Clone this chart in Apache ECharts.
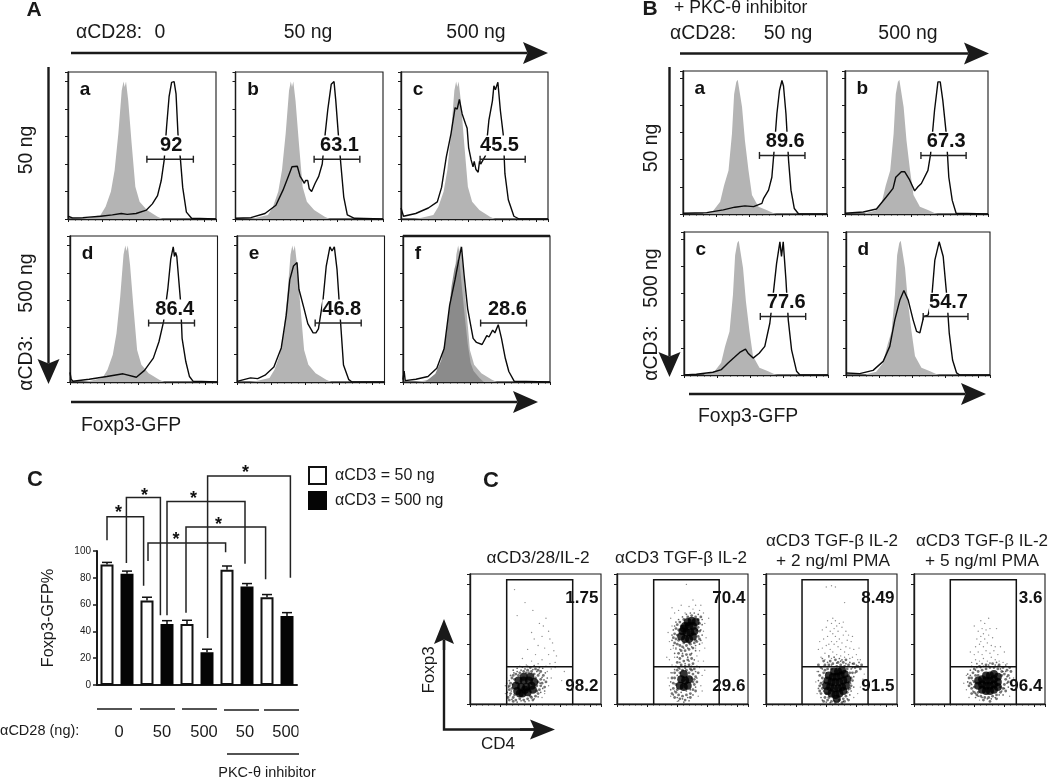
<!DOCTYPE html>
<html><head><meta charset="utf-8">
<script src="https://cdn.jsdelivr.net/npm/echarts@6/dist/echarts.min.js"></script>
<style>html,body{margin:0;padding:0;background:#fff}#c{width:1050px;height:779px}</style></head>
<body><div id="c"></div>
<script>
// ---------- Histogram traces: [fluorescence channel 0-100, % of max] ----------
const controlA=[[8.5,0],[14,1],[22,3],[25.4,9],[29,20],[31.5,35.5],[34,62],[36.3,93.5],[37.5,100],[38.3,96],[39.2,100],[40.7,86],[43,55],[45.5,23.4],[48.4,12.6],[53.3,6.5],[60.5,1.7],[64,0]];
const controlB=[[14,.5],[21,2.4],[25.8,9],[28.5,21],[31.6,32],[34,59],[35.5,88],[37,97],[38,98.5],[39.2,98],[41,78.5],[43,54],[45.5,32],[47.9,14],[52.4,5.4],[58,3],[63,.5],[65,0]];
const overlapF=[[15,0],[22,6],[26,16],[29,32],[31,50],[33,70],[35,83],[37,90],[38.5,88],[40,70],[42,48],[44,28],[46,14],[48,8],[52,3],[55,0]];
const traceAa=[[0,2],[1,3],[3,.8],[10,1],[22,2],[30,3],[36,4],[40,3.4],[46,4],[53,6.5],[57,11],[60.5,17],[63,28],[65,43],[66.6,67],[68.3,89],[70,99.5],[71.7,100],[73,91],[74.3,62],[76,43],[77.5,23],[80,5],[83.5,.5],[100,0]];
const traceAb=[[0,.5],[10.4,1],[20,4],[27.4,10],[32.2,21],[35.8,31],[38.3,38],[41.9,38.4],[43.8,31],[45,29],[46.7,26],[47.5,28],[49,28],[50,22],[51.6,20],[54,26],[56.4,31],[58.8,40],[60.8,62],[62.5,79],[64.9,98],[65.8,99],[66.8,100],[68,86],[69.7,62],[71.4,40],[73.4,16],[75.8,3],[80.6,.5],[100,0]];
const traceAc=[[0,8],[1.7,2],[10,4],[18.6,8],[24.7,12.5],[27.6,23],[30.8,45],[34,62],[36.8,81],[38.2,80],[39.7,87],[41.6,76.5],[44,69],[45,66],[46,52],[47.7,43],[49,38],[49.8,42],[51,36],[52.5,34],[53.4,42],[54.2,40],[57.4,46],[59.8,72],[62.2,86],[63.2,97],[64.2,94],[65.9,99.5],[67.6,79],[69.5,62],[70.7,33],[73,14],[76.8,2],[80.4,0],[100,0]];
const traceAd=[[0,7],[.8,2],[2,.5],[13,2],[25,4],[36,6],[45,3.5],[50.5,8.5],[56.5,17.5],[60.3,29.5],[63.4,44],[66.3,68],[68.3,90],[70,99],[70.8,92],[71.6,95],[72.4,92],[75,58.5],[76,32],[78.5,15],[81,4],[83.5,.5],[100,0]];
const traceAe=[[0,.5],[9.2,3],[14,2.5],[19,5],[25,11],[30,25],[33.4,49],[35.8,75],[38.3,85],[40.7,87.5],[42,68],[45.5,53.6],[48,42.8],[51.6,36],[53.5,36],[55.2,39],[58.4,61],[60.5,85],[63,99],[64.4,96],[66,99],[67.8,82.6],[70.2,44],[72.2,12.5],[75.8,1.7],[78,0],[100,0]];
const traceAf=[[0,1.7],[.8,8],[1.5,1],[8.8,2],[17,4],[23,10],[28,24.6],[31.7,56],[35.4,75],[38.4,92],[39.8,99],[41.6,78],[44,53.6],[47.7,32],[50,29],[53.8,27.5],[57,34],[58.5,33],[61,38],[62.5,36],[64.8,42],[67,32],[69.6,17.4],[72,7.7],[75.7,.5],[100,0]];
const traceBa=[[0,.5],[16.5,1],[28,3],[36,5],[43,6],[49,5.4],[54.8,7.8],[56,11.5],[59.4,17.5],[61.7,27],[63.3,47],[65.2,73.6],[67,90.7],[68.7,98],[69.8,94],[71.5,73.6],[73.3,39.5],[75,17.5],[77.3,4],[80.3,0],[100,0]];
const traceBb=[[0,.5],[12.8,1.5],[22,3.7],[29,12.7],[33.6,18.8],[35.5,27],[39.4,31],[41.8,31],[45.2,25],[48.7,17],[51,20],[53.4,22.4],[58,32],[59.9,44.4],[62.6,76],[65,97],[66.6,97],[68.4,83.4],[70.8,59],[72.6,27],[75,10],[77.7,.5],[100,0]];
const traceBc=[[0,0],[8.6,.5],[20,2],[26,4],[30.6,8.8],[35,13],[38.7,16.6],[42.7,19],[44.5,16],[48,12.4],[52.2,16],[56.1,21],[59.6,38],[61.5,55],[64.3,82],[66.6,97.8],[67.7,87],[68.9,97.8],[70.8,69.8],[72.4,40.5],[74.7,18.5],[78.2,2.7],[80.5,0],[100,0]];
const traceBd=[[0,1.5],[9.5,1],[18.8,3.4],[25.8,10],[30.4,21],[33.9,40.5],[37.4,55],[40.2,62],[43.2,55],[46.6,40.5],[49,32],[51.3,31],[54,43],[57,44],[59.4,55],[61.7,84.4],[64.7,97.8],[67.5,87],[69.8,60],[71.7,30.7],[74,11],[76.8,1.5],[79,0],[100,0]];
// Gates: [left edge, right edge, level, label centre]
const gatesA=[[53.3,84.7,43.5,69.7],[53.3,84.3,43.5,70.5],[53.8,84.5,43.5,67],[53.3,84.4,43.2,71],[53,84.2,43.2,71],[52.8,84,43.2,71]];
const gatesB=[[53.1,84.7,43,71],[53.1,84.7,43,70.8],[53,84.5,43,71],[53.6,84.7,43,71.2]];
const percentA=['92','63.1','45.5','86.4','46.8','28.6'];
const percentB=['89.6','67.3','77.6','54.7'];
const lettersA=['a','b','c','d','e','f'];
const lettersB=['a','b','c','d'];

// ---------- Bar chart ----------
const barCategories=['0 / 50','0 / 500','50 / 50','50 / 500','500 / 50','500 / 500','PKC 50 / 50','PKC 50 / 500','PKC 500 / 50','PKC 500 / 500'];
const foxp3White=[90,null,63,null,45.5,null,86,null,65.5,null];
const foxp3Black=[null,83,null,45.5,null,24.5,null,73.5,null,51.5];
const foxp3Values=[90,83,63,45.5,45.5,24.5,86,73.5,65.5,51.5];
const foxp3Errors=[1.5,2,2.5,2.5,2.8,2.2,2.8,2.2,2,2.5];
// brackets: [left bar, right bar, top, left end, right end]
const brackets=[[0,1.83,125.6,108,74],[.97,2.67,140,91,52],[3,6.9,137,52,90.5],[2.05,5.93,106,92.5,99],[3.95,7.93,118,54,79],[5.03,9.17,156,35,80]];
const starMarks=[[.58,131],[1.88,144],[4.33,142],[3.45,111],[5.58,122.6],[6.92,161]];

// ---------- Dot plots: [CD4, Foxp3] on a 0-100 display scale ----------
const core1=[[36,10],[40,8],[44,9],[48,11],[35,14],[39,13],[43,13],[47,14],[37,18],[41,18],[45,18],[49,17],[42,11],[41,21],[46,21],[38,8]];
const halo1=[[31,8],[32,12],[31,16],[32,20],[33,5],[35,3],[38,4],[41,3],[44,4],[47,5],[50,6],[52,8],[53,11],[54,14],[52,17],[54,19],[52,22],[49,23],[47,25],[44,26],[41,25],[38,24],[35,23],[33,22],[30,11],[30,14],[34,7],[34,19],[51,10],[51,14],[50,20],[55,16],[56,22],[54,25],[50,27],[46,6],[37,22],[43,24],[29,5],[30,3],[57,13],[33,2],[48,3],[58,17],[46,28],[52,26]];
const fine1=[[30.5,6.5],[31.5,10],[29.5,13],[32.5,15],[30,18],[31,22],[33.5,24],[36,25],[39,26],[42,27],[45,24.5],[48,26.5],[51,25],[53,23.5],[55,20.5],[53.5,16],[55.5,12],[54,9],[52,5.5],[49,4],[45,2.5],[42,1.8],[39,2.5],[36,1.5],[32,3.5],[28.5,9],[28,16],[56.5,18.5],[57.5,24],[53,28],[49,29.5],[44,29],[40,28.5],[36,27.5],[57,10],[59,20],[33,26],[55.5,27.5]];
const dust1=[[59,25],[62,20],[60,14],[57,8],[55,5],[62,27],[65,28],[58,29],[52,31],[47,33],[61,31],[65,32],[55,34],[60,38],[66,37],[50,38],[43,30],[38,29],[57,43],[63,47],[52,45],[49,50],[55,52],[61,50],[56,60],[53,62],[47,55],[60,56],[44,42],[64,41],[36,68],[42,78],[34,88],[48,72],[58,66],[40,35],[72,25],[70,18],[27,14],[27,8],[28,20]];
const core2=[[49,52],[52,50],[55,50],[58,52],[50,56],[53,55],[56,55],[59,56],[52,60],[55,60],[58,60],[54,63],[57,64],[60,63],[51,58],[48,14],[51,13],[54,14],[49,19],[52,18],[55,19],[51,23]];
const halo2=[[44,54],[45,50],[44,47],[46,46],[48,45],[50,44],[53,45],[56,46],[59,47],[61,48],[62,52],[63,56],[62,59],[63,62],[62,65],[64,67],[60,67],[57,68],[54,67],[51,65],[48,63],[46,61],[45,58],[47,49],[46,53],[47,57],[49,60],[60,49],[61,57],[63,50],[43,51],[51,47],[55,47],[49,41],[52,41],[55,42],[58,43],[47,39],[50,37],[53,38],[56,38],[48,35],[51,33],[54,34],[57,35],[46,32],[49,30],[52,29],[55,30],[58,31],[47,28],[50,26],[53,26],[56,27],[59,27],[43,12],[43,16],[44,20],[44,24],[45,9],[47,7],[50,6],[53,7],[56,8],[58,11],[59,15],[59,19],[58,23],[57,26],[46,26],[42,8],[44,5],[48,4],[52,3],[56,5],[60,10],[61,17],[62,24],[46,11],[58,17],[48,24],[55,24],[42,20],[45,15],[60,21]];
const fine2=[[43,45],[42,49],[42,53],[43,57],[44,60],[45,63],[47,65],[50,67],[53,69],[56,70],[59,70],[62,69],[65,65],[65,61],[64,57],[65,53],[64,49],[63,46],[60,45],[57,44],[54,43],[51,43],[48,42],[45,43],[46,36],[44,39],[50,39],[54,36],[57,39],[60,41],[45,29],[48,32],[52,31],[55,33],[59,34],[44,26.5],[48,27],[52,27.5],[57,29],[61,29],[42,24],[41,17],[41,11],[43,7],[46,5],[50,4],[54,5],[58,7],[60,13],[61,20],[60,25],[57,20],[44,10],[46,22],[49,9],[53,10],[56,11],[47,2.5],[51,1.5],[55,2.5]];
const dust2=[[40,48],[41,42],[42,60],[41,66],[44,70],[47,72],[52,70],[58,73],[63,72],[66,70],[67,62],[66,56],[65,47],[67,43],[63,41],[61,37],[44,36],[42,30],[41,24],[40,14],[41,6],[46,2],[63,28],[65,22],[64,14],[62,6],[43,43],[39,55],[60,76],[55,75],[49,76],[64,76],[68,51],[62,33],[60,43],[45,42],[58,80],[53,92],[42,74],[70,66],[38,36],[40,34],[66,33],[39,20],[65,10],[67,26]];
const core3=[[47,10],[50,8],[53,7],[56,8],[59,10],[46,14],[49,13],[52,12],[55,12],[58,13],[61,14],[47,18],[50,17],[53,17],[56,17],[59,18],[62,19],[48,22],[51,21],[54,21],[57,22],[60,23],[52,25],[55,25],[58,26],[54,4]];
const halo3=[[42,8],[43,12],[42,16],[43,20],[44,24],[45,5],[47,3],[50,2],[53,1],[56,3],[59,4],[61,6],[62,9],[64,12],[64,16],[65,20],[64,24],[62,27],[60,29],[57,30],[54,29],[50,27],[47,27],[45,26],[41,10],[41,14],[44,17],[65,14],[66,18],[66,24],[63,30],[59,32],[55,32],[51,31],[48,30],[45,30],[68,28],[70,29],[72,27],[67,31],[42,28],[41,22],[48,5],[44,2],[58,1],[63,3],[63,22],[46,8],[60,2],[69,25],[73,30],[53,34],[49,33],[61,34],[40,30],[44,33]];
const fine3=[[40,12],[40,18],[40,25],[42,5],[43,3],[46,1.5],[49,1],[52,2.5],[55,1.5],[59,2],[62,4],[64,7],[65,10],[67,13],[67,21],[68,24],[66,28],[64,32],[61,31],[57,33],[54,31.5],[50,30],[47,32],[44,29],[43,27],[46,24],[43,15],[44,10],[63,11],[63,17],[61,25],[65,27],[69,30],[71,32],[52,36],[56,35],[58,34],[48,37],[43,35],[66,31]];
const dust3=[[42,36],[45,39],[48,36],[51,40],[54,38],[57,37],[60,40],[63,38],[66,36],[69,38],[72,34],[43,43],[46,45],[49,42],[52,46],[55,44],[58,47],[61,44],[64,43],[67,42],[44,50],[47,52],[50,48],[53,52],[56,50],[59,53],[62,49],[65,48],[43,57],[46,59],[49,56],[52,58],[55,56],[58,59],[61,56],[50,62],[53,64],[56,62],[47,64],[59,63],[51,66],[48,46],[54,48],[51,54],[54,60],[57,42],[45,34],[50,35],[60,36],[64,35],[70,34],[41,48],[63,53],[66,52],[71,43],[40,42],[46,90],[60,78],[53,90],[50,91],[71,28],[75,23],[74,19],[72,13],[70,8],[67,5],[38,17],[39,8],[39,25]];
const core4=[[49,14],[49,18],[52,11],[52,15],[52,19],[55,10],[55,14],[55,18],[55,22],[58,10],[58,14],[58,18],[58,22],[61,11],[61,15],[61,19],[61,23],[64,13],[64,17],[64,21]];
const halo4=[[44,12],[43,16],[44,20],[45,24],[46,9],[48,7],[51,6],[54,5],[57,5],[60,6],[63,7],[66,9],[68,12],[69,15],[70,19],[69,23],[67,25],[64,27],[61,28],[58,28],[55,27],[52,26],[49,25],[47,22],[46,17],[46,13],[49,9],[49,22],[66,13],[67,22],[72,17],[72,22],[71,26],[68,28],[65,30],[60,31],[55,30],[50,29],[46,27],[42,20],[42,14],[44,8],[53,3],[58,2],[63,4],[70,10],[73,28],[74,25]];
const fine4=[[45,10],[44,15],[45,18],[43,22],[47,26],[48,28],[51,28],[53,29],[57,30],[62,30],[64,29],[66,27],[68,25],[70,25],[71,21],[71,16],[69,12],[67,10],[65,7],[62,5],[59,4],[56,4],[52,5],[49,6],[47,8],[41,17],[41,23],[43,26],[47,5],[68,7],[72,13],[73,20],[70,30],[44,29],[58,31.5],[52,31],[63,32],[48,31]];
const dust4=[[44,32],[47,34],[50,33],[53,35],[56,33],[59,36],[62,34],[65,33],[68,32],[71,31],[46,38],[49,40],[52,38],[55,41],[58,39],[61,41],[64,38],[47,44],[50,46],[53,44],[56,47],[59,45],[62,44],[48,50],[51,52],[54,50],[57,53],[60,51],[49,56],[52,58],[55,57],[58,58],[46,60],[54,62],[51,64],[57,66],[63,58],[66,44],[69,40],[43,40],[53,54],[51,48],[40,22],[40,11],[76,20],[75,12],[73,6],[38,16],[50,3],[42,5]];
// dot plot gates: [left, right, divider, top]
const dotGates=[[28,78.4,28.6,95.6],[28,78,28.6,95.6],[27.5,77.9,28.6,95.6],[27.7,78.1,28.6,95.6]];
const dotUpper=['1.75','70.4','8.49','3.6'];
const dotLower=['98.2','29.6','91.5','96.4'];

// ---------- Layout ----------
const FONT='"Liberation Sans",Arial,sans-serif';
const INK='#1a1a1a';
const boxesA=[[68,72,148,147],[235.5,72,147.5,147],[401,72,147,147],[70,236,147.5,146],[237,236,147.5,146],[403,236,147,146]];
const boxesB=[[683,71,144,143],[845,71,143,143],[684,232,144,143],[846,232,144,143]];
const boxesD=[[470,574,131,130],[617,574,131,130],[766,574,131,130],[914,574,131,130]];
const grids=[],xAxes=[],yAxes=[],series=[];

function tickAxis(idx,max){
  const line={color:INK,width:1};
  return {gridIndex:idx,type:'value',min:0,max:max,interval:max>103?20:23,
    axisLine:{show:true,onZero:false,lineStyle:{color:INK,width:1.4}},
    axisTick:{show:true,length:3,lineStyle:line},
    minorTick:{show:false},axisLabel:{show:false},splitLine:{show:false}};
}
function addBox(box,ymax){
  const idx=grids.length;
  grids.push({left:box[0],top:box[1],width:box[2],height:box[3],show:true,borderColor:INK,borderWidth:1.1,backgroundColor:'#fff'});
  const xa=tickAxis(idx,100);
  xa.minorTick={show:true,splitNumber:5,length:1.6,lineStyle:{color:INK,width:.8}};
  xAxes.push(xa);
  yAxes.push(tickAxis(idx,ymax));
  return idx;
}
function noteText(text,x,y,size,align,bg){
  return {type:'text',z2:20,style:{text:text,x:x,y:y,fill:'#111',font:'bold '+size+'px '+FONT,textAlign:align,textVerticalAlign:'middle',backgroundColor:bg||null}};
}
function addHist(box,ctrl,trace,gate,pct,letter,ymax,overlap){
  const i=addBox(box,ymax);
  const base={xAxisIndex:i,yAxisIndex:i,silent:true};
  series.push(Object.assign({},base,{type:'line',name:'control '+letter,data:ctrl,showSymbol:false,symbol:'none',lineStyle:{width:0},areaStyle:{color:'#b4b4b4',opacity:1},z:2}));
  if(overlap)series.push(Object.assign({},base,{type:'line',name:'overlap',data:overlap,showSymbol:false,symbol:'none',lineStyle:{width:0},areaStyle:{color:'#8b8b8b',opacity:1},z:2}));
  series.push(Object.assign({},base,{type:'line',name:'sample '+letter,data:trace,showSymbol:false,symbol:'none',lineStyle:{color:'#0a0a0a',width:1.4},z:2.5}));
  series.push(Object.assign({},base,{type:'custom',name:'label '+letter,z:3,clip:false,data:[gate],encode:{x:[0,1,3],y:2},renderItem:(p,api)=>{
    const c=api.coord([api.value(3),api.value(2)+10]);
    return noteText(pct,c[0],c[1],20,'center','#fff');
  }}));
  series.push(Object.assign({},base,{type:'custom',name:'gate '+letter,z:4,clip:false,data:[gate],encode:{x:[0,1,3],y:2},renderItem:(p,api)=>{
    const a=api.coord([api.value(0),api.value(2)]),b=api.coord([api.value(1),api.value(2)]);
    const st={stroke:'#222',lineWidth:1.4,fill:null};
    const seg=(x1,y1,x2,y2)=>({type:'line',shape:{x1,y1,x2,y2},style:st});
    const t=api.coord([8,ymax-13]);
    return {type:'group',children:[seg(a[0],a[1],b[0],b[1]),seg(a[0],a[1]-3.5,a[0],a[1]+3.5),seg(b[0],b[1]-3.5,b[0],b[1]+3.5),noteText(letter,t[0],t[1],19,'left')]};
  }}));
}
function addDots(box,core,halo,fine,dust,gate,up,low){
  const i=addBox(box,100);
  const base={xAxisIndex:i,yAxisIndex:i,silent:true,type:'scatter',z:2};
  series.push(Object.assign({},base,{name:'dust',data:dust,symbolSize:1.4,itemStyle:{color:'#000',opacity:.45}}));
  series.push(Object.assign({},base,{name:'fine',data:fine,symbolSize:1.7,itemStyle:{color:'#000',opacity:.6}}));
  series.push(Object.assign({},base,{name:'halo',data:halo,symbolSize:2.8,itemStyle:{color:'#000',opacity:.55}}));
  series.push(Object.assign({},base,{name:'core',data:core,symbolSize:8,itemStyle:{color:'#000',opacity:.8}}));
  series.push({type:'custom',name:'dot gate',xAxisIndex:i,yAxisIndex:i,silent:true,z:4,clip:false,data:[gate],encode:{x:[0,1],y:[2,3]},renderItem:(p,api)=>{
    const L=api.value(0),R=api.value(1),D=api.value(2),T=api.value(3);
    const pt=(x,y)=>api.coord([x,y]);
    const st={stroke:'#111',lineWidth:1.5,fill:null};
    const poly=(pts)=>({type:'polyline',shape:{points:pts},style:st});
    const u=pt(98,81.5),l=pt(98,13.8);
    return {type:'group',children:[poly([pt(L,0),pt(L,T),pt(R,T),pt(R,0)]),poly([pt(L,D),pt(R,D)]),noteText(up,u[0],u[1],17,'right'),noteText(low,l[0],l[1],17,'right')]};
  }});
}

const tracesA=[traceAa,traceAb,traceAc,traceAd,traceAe,traceAf];
boxesA.forEach((b,k)=>addHist(b,controlA,tracesA[k],gatesA[k],percentA[k],lettersA[k],107,k===5?overlapF:null));
const tracesB=[traceBa,traceBb,traceBc,traceBd];
boxesB.forEach((b,k)=>addHist(b,controlB,tracesB[k],gatesB[k],percentB[k],lettersB[k],105));
[[core1,halo1,fine1,dust1],[core2,halo2,fine2,dust2],[core3,halo3,fine3,dust3],[core4,halo4,fine4,dust4]].forEach((d,k)=>addDots(boxesD[k],d[0],d[1],d[2],d[3],dotGates[k],dotUpper[k],dotLower[k]));

// Bar chart
const barIdx=grids.length;
const barX=xAxes.length;
grids.push({left:97,top:551,width:200,height:134,show:false});
xAxes.push({gridIndex:barIdx,type:'category',data:barCategories,axisLine:{show:true,onZero:false,lineStyle:{color:INK,width:2}},axisTick:{show:false},axisLabel:{show:false},splitLine:{show:false}});
yAxes.push({gridIndex:barIdx,type:'value',min:0,max:100,interval:20,name:'Foxp3-GFP%',nameLocation:'middle',nameRotate:90,nameGap:40,nameTextStyle:{color:INK,fontFamily:FONT,fontSize:16.3},
  axisLine:{show:true,onZero:false,lineStyle:{color:INK,width:2}},axisTick:{show:true,length:4,lineStyle:{color:INK,width:1.5}},axisLabel:{color:INK,fontFamily:FONT,fontSize:10,margin:6},splitLine:{show:false}});
const barHelper=xAxes.length;
xAxes.push({gridIndex:barIdx,type:'value',min:-.5,max:9.5,show:false,splitLine:{show:false}});
const barCommon={type:'bar',xAxisIndex:barX,yAxisIndex:barIdx,barWidth:13,barGap:'-100%',silent:true,z:3};
series.push(Object.assign({},barCommon,{name:'αCD3 = 50 ng',data:foxp3White,itemStyle:{color:'#fff',borderColor:'#111',borderWidth:2}}));
series.push(Object.assign({},barCommon,{name:'αCD3 = 500 ng',data:foxp3Black,itemStyle:{color:'#050505',borderColor:'#050505',borderWidth:2}}));
series.push({type:'custom',name:'error',xAxisIndex:barHelper,yAxisIndex:barIdx,silent:true,z:2,clip:false,
  data:foxp3Values.map((v,i)=>[i,v]),encode:{x:0,y:1},renderItem:(p,api)=>{
    const k=p.dataIndex,v=foxp3Values[k];
    const a=api.coord([k,v]),b=api.coord([k,v+foxp3Errors[k]]);
    const st={stroke:'#111',lineWidth:1.5};
    return {type:'group',children:[{type:'line',shape:{x1:a[0],y1:a[1],x2:b[0],y2:b[1]},style:st},{type:'line',shape:{x1:b[0]-5,y1:b[1],x2:b[0]+5,y2:b[1]},style:st}]};
  }});
series.push({type:'custom',name:'bracket',xAxisIndex:barHelper,yAxisIndex:barIdx,silent:true,z:4,clip:false,data:brackets,encode:{x:[0,1],y:[2,3,4]},renderItem:(p,api)=>{
    const pt=(x,y)=>api.coord([x,y]);
    const L=api.value(0),R=api.value(1),T=api.value(2);
    return {type:'polyline',shape:{points:[pt(L,api.value(3)),pt(L,T),pt(R,T),pt(R,api.value(4))]},style:{stroke:'#222',lineWidth:1.5,fill:null}};
  }});
series.push({type:'custom',name:'star',xAxisIndex:barHelper,yAxisIndex:barIdx,silent:true,z:4,clip:false,data:starMarks,encode:{x:0,y:1},renderItem:(p,api)=>{
    const c=api.coord([api.value(0),api.value(1)]);
    return {type:'text',style:{text:'*',x:c[0],y:c[1]+4,fill:'#111',font:'bold 18px '+FONT,textAlign:'center',textVerticalAlign:'middle'}};
  }});

// ---------- Annotation: arrows, captions ----------
const G=[];
function T(text,x,y,size,o){o=o||{};
  G.push({type:'text',silent:true,x:x,y:y,rotation:o.rot?Math.PI/2:0,z:50,style:{text:text,fill:'#1a1a1a',font:(o.bold?'bold ':'')+size+'px '+FONT,textAlign:o.align||'center',textVerticalAlign:'middle'}});
}
function arrow(x0,y0,x1,y1,len,half){
  const dx=x1-x0,dy=y1-y0,d=Math.hypot(dx,dy),ux=dx/d,uy=dy/d,nx=-uy,ny=ux;
  const bx=x1-ux*len,by=y1-uy*len,mx=x1-ux*len*.82,my=y1-uy*len*.82;
  G.push({type:'line',silent:true,z:40,shape:{x1:x0,y1:y0,x2:mx,y2:my},style:{stroke:'#1a1a1a',lineWidth:2.4}});
  G.push({type:'polygon',silent:true,z:40,shape:{points:[[x1,y1],[bx+nx*half,by+ny*half],[mx,my],[bx-nx*half,by-ny*half]]},style:{fill:'#1a1a1a'}});
}
function rule(x1,y1,x2,y2,w){G.push({type:'line',silent:true,z:40,shape:{x1,y1,x2,y2},style:{stroke:'#1a1a1a',lineWidth:w||1.3}});}

// Panel A
T('A',34,10,21,{bold:1});
T('αCD28:',76,33,19.4,{align:'left'});T('0',160,33,19.4);T('50 ng',308,33,19.4);T('500 ng',476,33,19.4);
arrow(71,53,548,53,25,11);arrow(48.5,67,48.5,384,25,11);arrow(71,402,538,402,25,11);
T('50 ng',27,150,19.4,{rot:1});T('500 ng',27,283,19.4,{rot:1});T('αCD3:',27,363,19.4,{rot:1});
T('Foxp3-GFP',81,426,19.4,{align:'left'});
rule(403,236,550,236,2.6);
// Panel B
T('B',650,9,21,{bold:1});
T('+ PKC-θ inhibitor',674,8,17.6,{align:'left'});
T('αCD28:',670,34,19.4,{align:'left'});T('50 ng',788,34,19.4);T('500 ng',908,34,19.4);
arrow(680,53.5,989,53.5,25,11);arrow(669.5,67,669.5,377,25,11);arrow(689,394,986,394,25,11);
T('50 ng',652,148,19.4,{rot:1});T('500 ng',652,278,19.4,{rot:1});T('αCD3:',652,353,19.4,{rot:1});
T('Foxp3-GFP',698,417,19.4,{align:'left'});
// Bar panel
T('C',35,480,22,{bold:1});
T('αCD28 (ng):',0,731,14.5,{align:'left'});
['0','50','500','50','500'].forEach((s,i)=>T(s,[119,162,204,245,286][i],732,16.5));
G.push({type:'rect',silent:true,z:51,shape:{x:298.5,y:720,width:10,height:24},style:{fill:'#fff'}});
rule(97,709,132,709);rule(140,709,175,709);rule(182,709,217,709);rule(224,710,259,710);rule(264,710,299,710);rule(227,754,299,754);
T('PKC-θ inhibitor',267,773,14.5);
// Dot plot panel
T('C',491,481,22,{bold:1});
T('αCD3/28/IL-2',538,558,17.3);T('αCD3 TGF-β IL-2',681,558,17);
T('αCD3 TGF-β IL-2',832,541,17);T('+ 2 ng/ml PMA',833,561,17.3);
T('αCD3 TGF-β IL-2',982,541,17);T('+ 5 ng/ml PMA',982,561,17.3);
G.push({type:'polyline',silent:true,z:40,shape:{points:[[444,640],[444,729.5],[535,729.5]]},style:{stroke:'#1a1a1a',lineWidth:2.4,fill:null}});
arrow(444,650,444,619,25,10);arrow(520,729.5,555,729.5,25,10);
T('Foxp3',429,670,17,{rot:1});T('CD4',498,744,17);

const chart=echarts.init(document.getElementById('c'),null,{renderer:'canvas'});
chart.setOption({animation:false,backgroundColor:'#fff',tooltip:{show:false},
  legend:{show:true,orient:'vertical',left:308,top:466,padding:0,itemGap:6,itemWidth:17,itemHeight:17,selectedMode:false,
    data:[{name:'αCD3 = 50 ng',icon:'rect'},{name:'αCD3 = 500 ng',icon:'rect'}],
    textStyle:{color:'#1a1a1a',fontFamily:FONT,fontSize:16,padding:[0,0,0,4]}},
  grid:grids,xAxis:xAxes,yAxis:yAxes,series:series,graphic:{elements:G}});
</script></body></html>
